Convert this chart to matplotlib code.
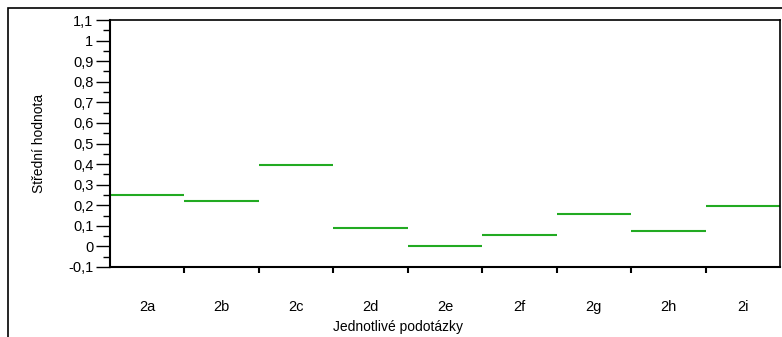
import matplotlib.pyplot as plt
from matplotlib.patches import Rectangle
from matplotlib.ticker import FixedLocator, MultipleLocator, FuncFormatter

plt.rcParams['font.family'] = ['Liberation Sans', 'DejaVu Sans']

# Mean value per sub-question
categories = ["2a", "2b", "2c", "2d", "2e", "2f", "2g", "2h", "2i"]
means = [0.25, 0.222, 0.397, 0.089, 0.002, 0.057, 0.156, 0.076, 0.196]

fig = plt.figure(figsize=(7.82, 3.37), dpi=100)

# outer frame, runs off the right and bottom edge
fig.patches.append(Rectangle((8 / 782, -0.1), 1.2, 1.1 - 8 / 337,
                             transform=fig.transFigure, fill=False,
                             edgecolor="black", linewidth=1.2))

ax = fig.add_axes([110 / 782, 70 / 337, 670 / 782, 247 / 337])

for i, m in enumerate(means):
    ax.hlines(m, i, i + 1, color="#22aa22", linewidth=1.5)

ax.set_xlim(0, len(categories))
ax.set_ylim(-0.1, 1.1)

# boundary ticks between categories
ax.xaxis.set_major_locator(FixedLocator(range(1, len(categories))))
ax.xaxis.set_major_formatter(FuncFormatter(lambda v, p: ""))
ax.xaxis.set_minor_locator(FixedLocator([i + 0.5 for i in range(len(categories))]))
ax.set_xticklabels(categories, minor=True)
ax.tick_params(axis="x", which="major", direction="out", length=4.5, width=1.5)
ax.tick_params(axis="x", which="minor", length=0, pad=24, labelsize=10.5)

ax.yaxis.set_major_locator(MultipleLocator(0.1))
ax.yaxis.set_minor_locator(MultipleLocator(0.05))


def fmt(v, p):
    s = ("%.1f" % v).rstrip("0").rstrip(".")
    if s == "-0":
        s = "0"
    return s.replace(".", ",")


ax.yaxis.set_major_formatter(FuncFormatter(fmt))
ax.tick_params(axis="y", which="major", direction="out", length=10, width=1.0, pad=2, labelsize=10.5)
ax.tick_params(axis="y", which="minor", direction="out", length=5, width=1.0)

for s in ax.spines.values():
    s.set_linewidth(1.2)
ax.spines["left"].set_linewidth(1.5)
ax.spines["bottom"].set_linewidth(1.5)

fig.text(39 / 782, 1 - 143 / 337, "Střední hodnota", rotation=90,
         ha="center", va="center", fontsize=10)
fig.text(398 / 782, 1 - 327 / 337, "Jednotlivé podotázky",
         ha="center", va="center", fontsize=10)

fig.savefig("out.png", dpi=100)
